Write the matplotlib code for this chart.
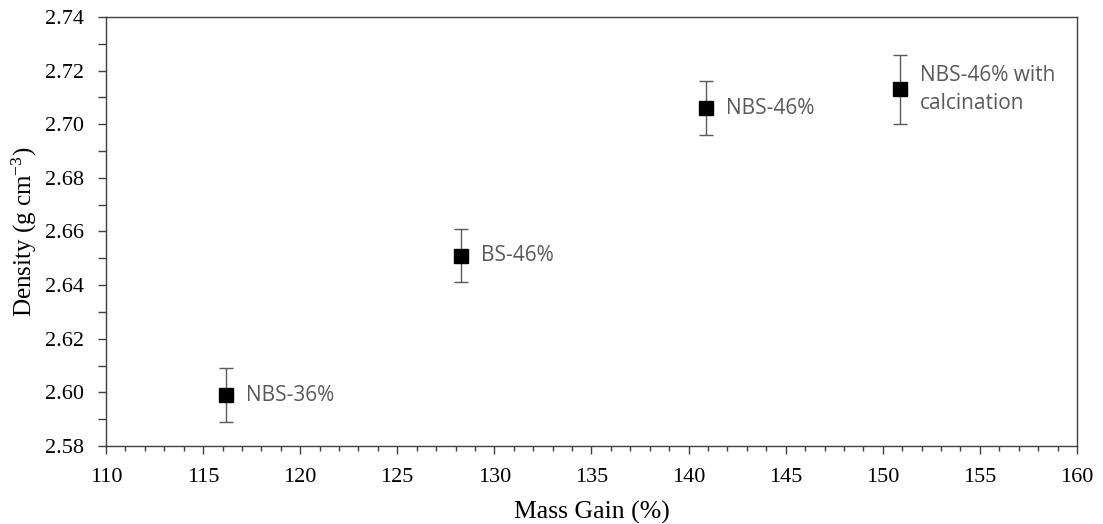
import matplotlib
matplotlib.use("Agg")
import matplotlib.pyplot as plt
from matplotlib.ticker import MultipleLocator

labels = ["NBS-36%", "BS-46%", "NBS-46%", "NBS-46% with\ncalcination"]
mass_gain = [116.2, 128.3, 140.9, 150.9]
density = [2.599, 2.651, 2.706, 2.713]
density_err = [0.010, 0.010, 0.010, 0.013]

plt.rcParams['mathtext.fontset'] = 'custom'
plt.rcParams['mathtext.rm'] = 'Liberation Serif'
plt.rcParams['mathtext.it'] = 'Liberation Serif:italic'

fig = plt.figure(figsize=(11.03, 5.24), dpi=100)
ax = fig.add_axes([0.0961, 0.1489, 0.8803, 0.8187])

ax.errorbar(mass_gain, density, yerr=density_err, fmt='s', color='black',
            markersize=10.5, ecolor='#595959', elinewidth=1.0, capsize=5, capthick=1.0)

for x, y, t in zip(mass_gain, density, labels):
    ax.annotate(t, (x, y), xytext=(14, 0), textcoords='offset points',
                ha='left', va='center', fontsize=15, color='#595959',
                family='Open Sans', linespacing=1.45)

ax.set_xlim(110, 160)
ax.set_ylim(2.58, 2.74)
ax.xaxis.set_major_locator(MultipleLocator(5))
ax.xaxis.set_minor_locator(MultipleLocator(1))
ax.yaxis.set_major_locator(MultipleLocator(0.02))
ax.yaxis.set_minor_locator(MultipleLocator(0.01))
ax.yaxis.set_major_formatter(matplotlib.ticker.FormatStrFormatter('%.2f'))

ax.tick_params(which='major', direction='out', length=6, width=1, color='#404040',
               labelsize=16)
ax.tick_params(axis='x', which='minor', direction='out', length=3.6, width=1, color='#404040')
ax.tick_params(axis='y', which='minor', direction='out', length=6, width=1, color='#404040')
ax.tick_params(axis='x', which='major', pad=10)
ax.tick_params(axis='y', which='major', pad=10)
for lab in ax.get_xticklabels() + ax.get_yticklabels():
    lab.set_family('Liberation Serif')
for s in ax.spines.values():
    s.set_color('#404040')
    s.set_linewidth(1.0)

ax.set_xlabel('Mass Gain (%)', family='Liberation Serif', fontsize=18.5)
ax.set_ylabel('Density (g cm$^{-3}$)', family='Liberation Serif', fontsize=18)
ax.xaxis.set_label_coords(0.5, -0.154)
ax.yaxis.set_label_coords(-0.0835, 0.5)
ax.xaxis.label.set_va('center')
ax.yaxis.label.set_va('center')

fig.savefig('out.png', dpi=100)
